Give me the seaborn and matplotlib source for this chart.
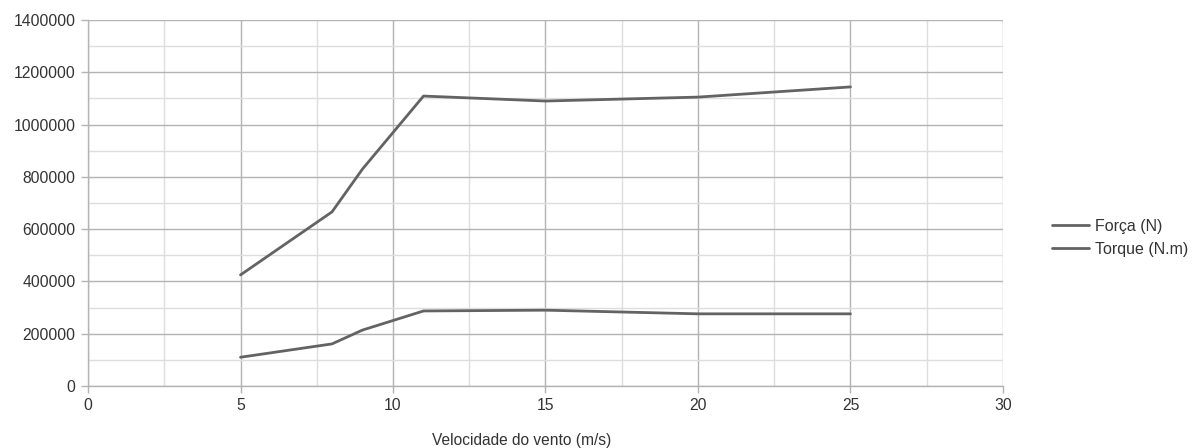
import matplotlib
matplotlib.use("Agg")
import matplotlib.pyplot as plt
from matplotlib.ticker import MultipleLocator, FuncFormatter
import seaborn as sns
import pandas as pd

# Wind speed (m/s) and the resulting force and torque
velocidade = [5, 8, 9, 11, 15, 20, 25]
forca = [110000, 161000, 214000, 287000, 290000, 276000, 276000]
torque = [425000, 666000, 830000, 1109000, 1090000, 1105000, 1144000]
series = ["Força (N)", "Torque (N.m)"]

df = pd.concat([
    pd.DataFrame({"v": velocidade, "valor": forca, "serie": series[0]}),
    pd.DataFrame({"v": velocidade, "valor": torque, "serie": series[1]}),
])

sns.set_theme(style="white")
plt.rcParams["font.family"] = ["Liberation Sans", "DejaVu Sans"]

fig = plt.figure(figsize=(11.93, 4.48), dpi=100)
ax = fig.add_axes([0.0738, 0.1384, 0.7669, 0.817])

line_color = "#636363"
sns.lineplot(data=df, x="v", y="valor", hue="serie", hue_order=series,
             palette=[line_color, line_color], linewidth=2.0, ax=ax,
             estimator=None, sort=False)

ax.set_xlim(0, 30)
ax.set_ylim(0, 1400000)
ax.xaxis.set_major_locator(MultipleLocator(5))
ax.xaxis.set_minor_locator(MultipleLocator(2.5))
ax.yaxis.set_major_locator(MultipleLocator(200000))
ax.yaxis.set_minor_locator(MultipleLocator(100000))
ax.yaxis.set_major_formatter(FuncFormatter(lambda v, p: f"{int(v)}"))

ax.grid(which="major", color="#b3b3b3", linewidth=1.0)
ax.grid(which="minor", color="#dedede", linewidth=1.0)
ax.set_axisbelow(True)

for side in ["top", "right"]:
    ax.spines[side].set_visible(False)
for side in ["left", "bottom"]:
    ax.spines[side].set_color("#b3b3b3")
    ax.spines[side].set_linewidth(1.0)

ax.tick_params(which="major", length=5, width=1, color="#b3b3b3",
               labelsize=11.3, labelcolor="#333333", direction="out",
               bottom=True, left=True, pad=4)
ax.tick_params(which="minor", length=0)

ax.set_xlabel("")
ax.set_ylabel("")
fig.text(522 / 1193, 1 - 440 / 448, "Velocidade do vento (m/s)",
         ha="center", va="center", fontsize=11.2, color="#333333")

leg = ax.legend(loc="center left", bbox_to_anchor=(1052 / 1193, 1 - 238 / 448),
                bbox_transform=fig.transFigure, frameon=False,
                fontsize=11.5, handlelength=2.3, handletextpad=0.37,
                labelspacing=0.5, borderpad=0, borderaxespad=0,
                labelcolor="#333333")
for h in leg.get_lines():
    h.set_linewidth(2.0)

fig.savefig("out.png", dpi=100)
